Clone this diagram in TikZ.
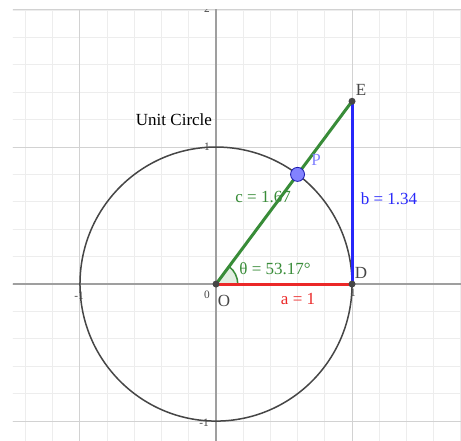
\documentclass[tikz,border=0pt]{standalone}
\usepackage{fontspec}
\setmainfont{Liberation Serif}
\usepackage{tikz}
\usetikzlibrary{arrows.meta}
\definecolor{VerdeLado}{RGB}{56,140,56}
\definecolor{RojoLado}{RGB}{235,40,40}
\definecolor{AzulLado}{RGB}{40,40,250}
\definecolor{PuntoP}{RGB}{130,130,255}
\definecolor{GrisOscuro}{RGB}{70,70,70}

\begin{document}
\begin{tikzpicture}[x=81.6pt,y=82.2pt,>=Latex,
    etiqueta/.style={font=\fontsize{10.2}{12}\selectfont,inner sep=0pt},
    marca/.style={font=\fontsize{6.8}{8}\selectfont,inner sep=0pt,text=GrisOscuro},
    punto/.style={circle,fill=GrisOscuro,inner sep=0pt,minimum size=4.2pt}]
  \useasboundingbox[fill=white] (-1.588,-1.139) rectangle (1.801,2.073);
  % cuadricula y ejes
  \begin{scope}
    \clip (-1.493,-1.139) rectangle (1.801,2.0);
    \draw[gray!14,line width=0.6pt,step=0.2] (-1.6,-1.2) grid (1.9,2.1);
    \draw[gray!35,line width=0.6pt,step=1] (-1.6,-1.2) grid (1.9,2.1);
    \draw[gray!75,line width=0.9pt] (-1.6,0)--(1.9,0);
    \draw[gray!75,line width=0.9pt] (0,-1.2)--(0,2.1);
    \node[marca] (m2) at (-0.066,2.008) {2};
  \end{scope}
  \node[marca] (my1) at (-0.066,1.0) {1};
  \node[marca] (mx0) at (-0.066,-0.080) {0};
  \node[marca] (mxm1) at (-1.007,-0.088) {-1};
  \node[marca] (mym1) at (-0.088,-1.015) {-1};
  \node[marca] (mx1) at (1.007,-0.066) {1};
  % circulo unidad
  \draw[GrisOscuro,line width=0.9pt] (0,0) circle (1);
  \node[etiqueta] (titulo) at (-0.309,1.197) {Unit Circle};
  % puntos
  \coordinate (O) at (0,0);
  \coordinate (D) at (1,0);
  \coordinate (E) at (1,1.334);
  \coordinate (P) at (53.17:1);
  % angulo
  \fill[VerdeLado!15] (O) -- (0.16,0) arc (0:53.17:0.16) -- cycle;
  \draw[VerdeLado,line width=0.9pt] (0.16,0) arc (0:53.17:0.16);
  % lados del triangulo
  \draw[RojoLado,line width=1.8pt] (O) -- (D);
  \draw[AzulLado,line width=1.8pt] (D) -- (E);
  \draw[VerdeLado,line width=1.8pt] (O) -- (E);
  \node[punto] (pO) at (O) {};
  \node[punto] (pD) at (D) {};
  \node[punto] (pE) at (E) {};
  \node[circle,fill=PuntoP,draw=AzulLado!70!black,line width=0.5pt,inner sep=0pt,minimum size=8.4pt] (pP) at (P) {};
  % etiquetas
  \node[etiqueta,text=GrisOscuro] (lE) at (1.066,1.416) {E};
  \node[etiqueta,text=GrisOscuro] (lD) at (1.066,0.080) {D};
  \node[etiqueta,text=GrisOscuro] (lO) at (0.059,-0.124) {O};
  \node[etiqueta,text=PuntoP] (lP) at (0.735,0.905) {P};
  \node[etiqueta,text=VerdeLado] (lc) at (0.346,0.635) {c = 1.67};
  \node[etiqueta,text=VerdeLado] (lt) at (0.434,0.109) {θ = 53.17°};
  \node[etiqueta,text=RojoLado] (la) at (0.603,-0.109) {a = 1};
  \node[etiqueta,text=AzulLado] (lb) at (1.272,0.620) {b = 1.34};
\end{tikzpicture}
\end{document}
